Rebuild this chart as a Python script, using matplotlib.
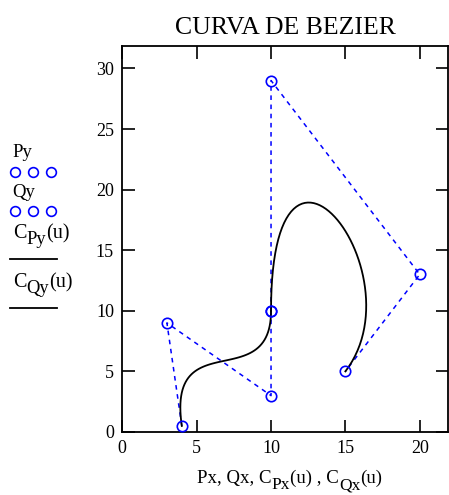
import numpy as np
import matplotlib.pyplot as plt
from matplotlib.lines import Line2D
from matplotlib.transforms import offset_copy

plt.rcParams['font.family'] = ['Liberation Serif', 'DejaVu Serif']

# Control points of the two cubic Bezier segments
Px = [4, 3, 10, 10]
Py = [0.5, 9, 3, 10]
Qx = [10, 10, 20, 15]
Qy = [10, 29, 13, 5]

xticks = [0, 5, 10, 15, 20]
yticks = [0, 5, 10, 15, 20, 25, 30]


def bezier(xs, ys, n=60):
    u = np.linspace(0, 1, n)
    b = [(1 - u) ** 3, 3 * u * (1 - u) ** 2, 3 * u ** 2 * (1 - u), u ** 3]
    cx = sum(bi * xi for bi, xi in zip(b, xs))
    cy = sum(bi * yi for bi, yi in zip(b, ys))
    return cx, cy


def rich_text(fig, x, y, parts, size=13, center=False):
    # parts: list of (text, is_subscript); drawn one after another
    r = fig.canvas.get_renderer()
    texts = []
    dx = 0
    for s, sub in parts:
        tr = offset_copy(fig.transFigure, fig=fig, x=dx, y=-4.5 if sub else 0, units='points')
        t = fig.text(x, y, s, fontsize=size * 0.92 if sub else size,
                     ha='left', va='baseline', transform=tr)
        w = t.get_window_extent(r).width * 72 / fig.dpi
        dx += w
        texts.append(t)
    if center:
        for t in texts:
            t.set_transform(offset_copy(t.get_transform(), fig=fig, x=-dx / 2, y=0, units='points'))
    return texts


fig = plt.figure(figsize=(4.49, 4.95), dpi=100)
ax = fig.add_axes([0.2724, 0.1273, 0.7254, 0.7798])

blue = '#0000ff'
dash = (0, (3, 3))
for xs, ys in [(Px, Py), (Qx, Qy)]:
    ax.plot(xs, ys, color=blue, lw=1.1, linestyle=dash, zorder=2)
    ax.plot(xs, ys, 'o', mfc='none', mec=blue, ms=7.5, mew=1.2,
            linestyle='none', zorder=4, clip_on=False)
    cx, cy = bezier(xs, ys)
    ax.plot(cx, cy, color='black', lw=1.3, zorder=3)

ax.set_xlim(0, 21.9)
ax.set_ylim(0, 31.85)
ax.set_xticks(xticks)
ax.set_yticks(yticks)
ax.tick_params(direction='in', length=9, width=1.2, top=True, right=True,
               labelsize=13, pad=6, colors='black')
for s in ax.spines.values():
    s.set_linewidth(1.3)

fig.text(0.636, 0.943, 'CURVA DE BEZIER', ha='center', va='center', fontsize=18.5)
rich_text(fig, 0.645, 1 - 483 / 495,
          [('Px, Qx, C', False), ('Px', True), ('(u) , C', False), ('Qx', True), ('(u)', False)],
          size=13.6, center=True)

# Left-hand legend (Mathcad style)
fig.text(0.027, 1 - 157 / 495, 'Py', ha='left', va='baseline', fontsize=13.5)
fig.text(0.027, 1 - 197 / 495, 'Qy', ha='left', va='baseline', fontsize=13.5)
rich_text(fig, 0.029, 1 - 238 / 495, [('C', False), ('Py', True), ('(u)', False)], size=14.5)
rich_text(fig, 0.029, 1 - 287 / 495, [('C', False), ('Qy', True), ('(u)', False)], size=14.5)
for yy in [172, 211]:
    fig.add_artist(Line2D([15 / 449, 33 / 449, 51 / 449], [1 - yy / 495] * 3,
                          marker='o', mfc='none', mec=blue, ms=7, mew=1.2,
                          linestyle='none'))
for yy in [259, 308]:
    fig.add_artist(Line2D([10 / 449, 57 / 449], [1 - yy / 495] * 2,
                          color='black', lw=1.3))

fig.savefig('out.png', dpi=100)
